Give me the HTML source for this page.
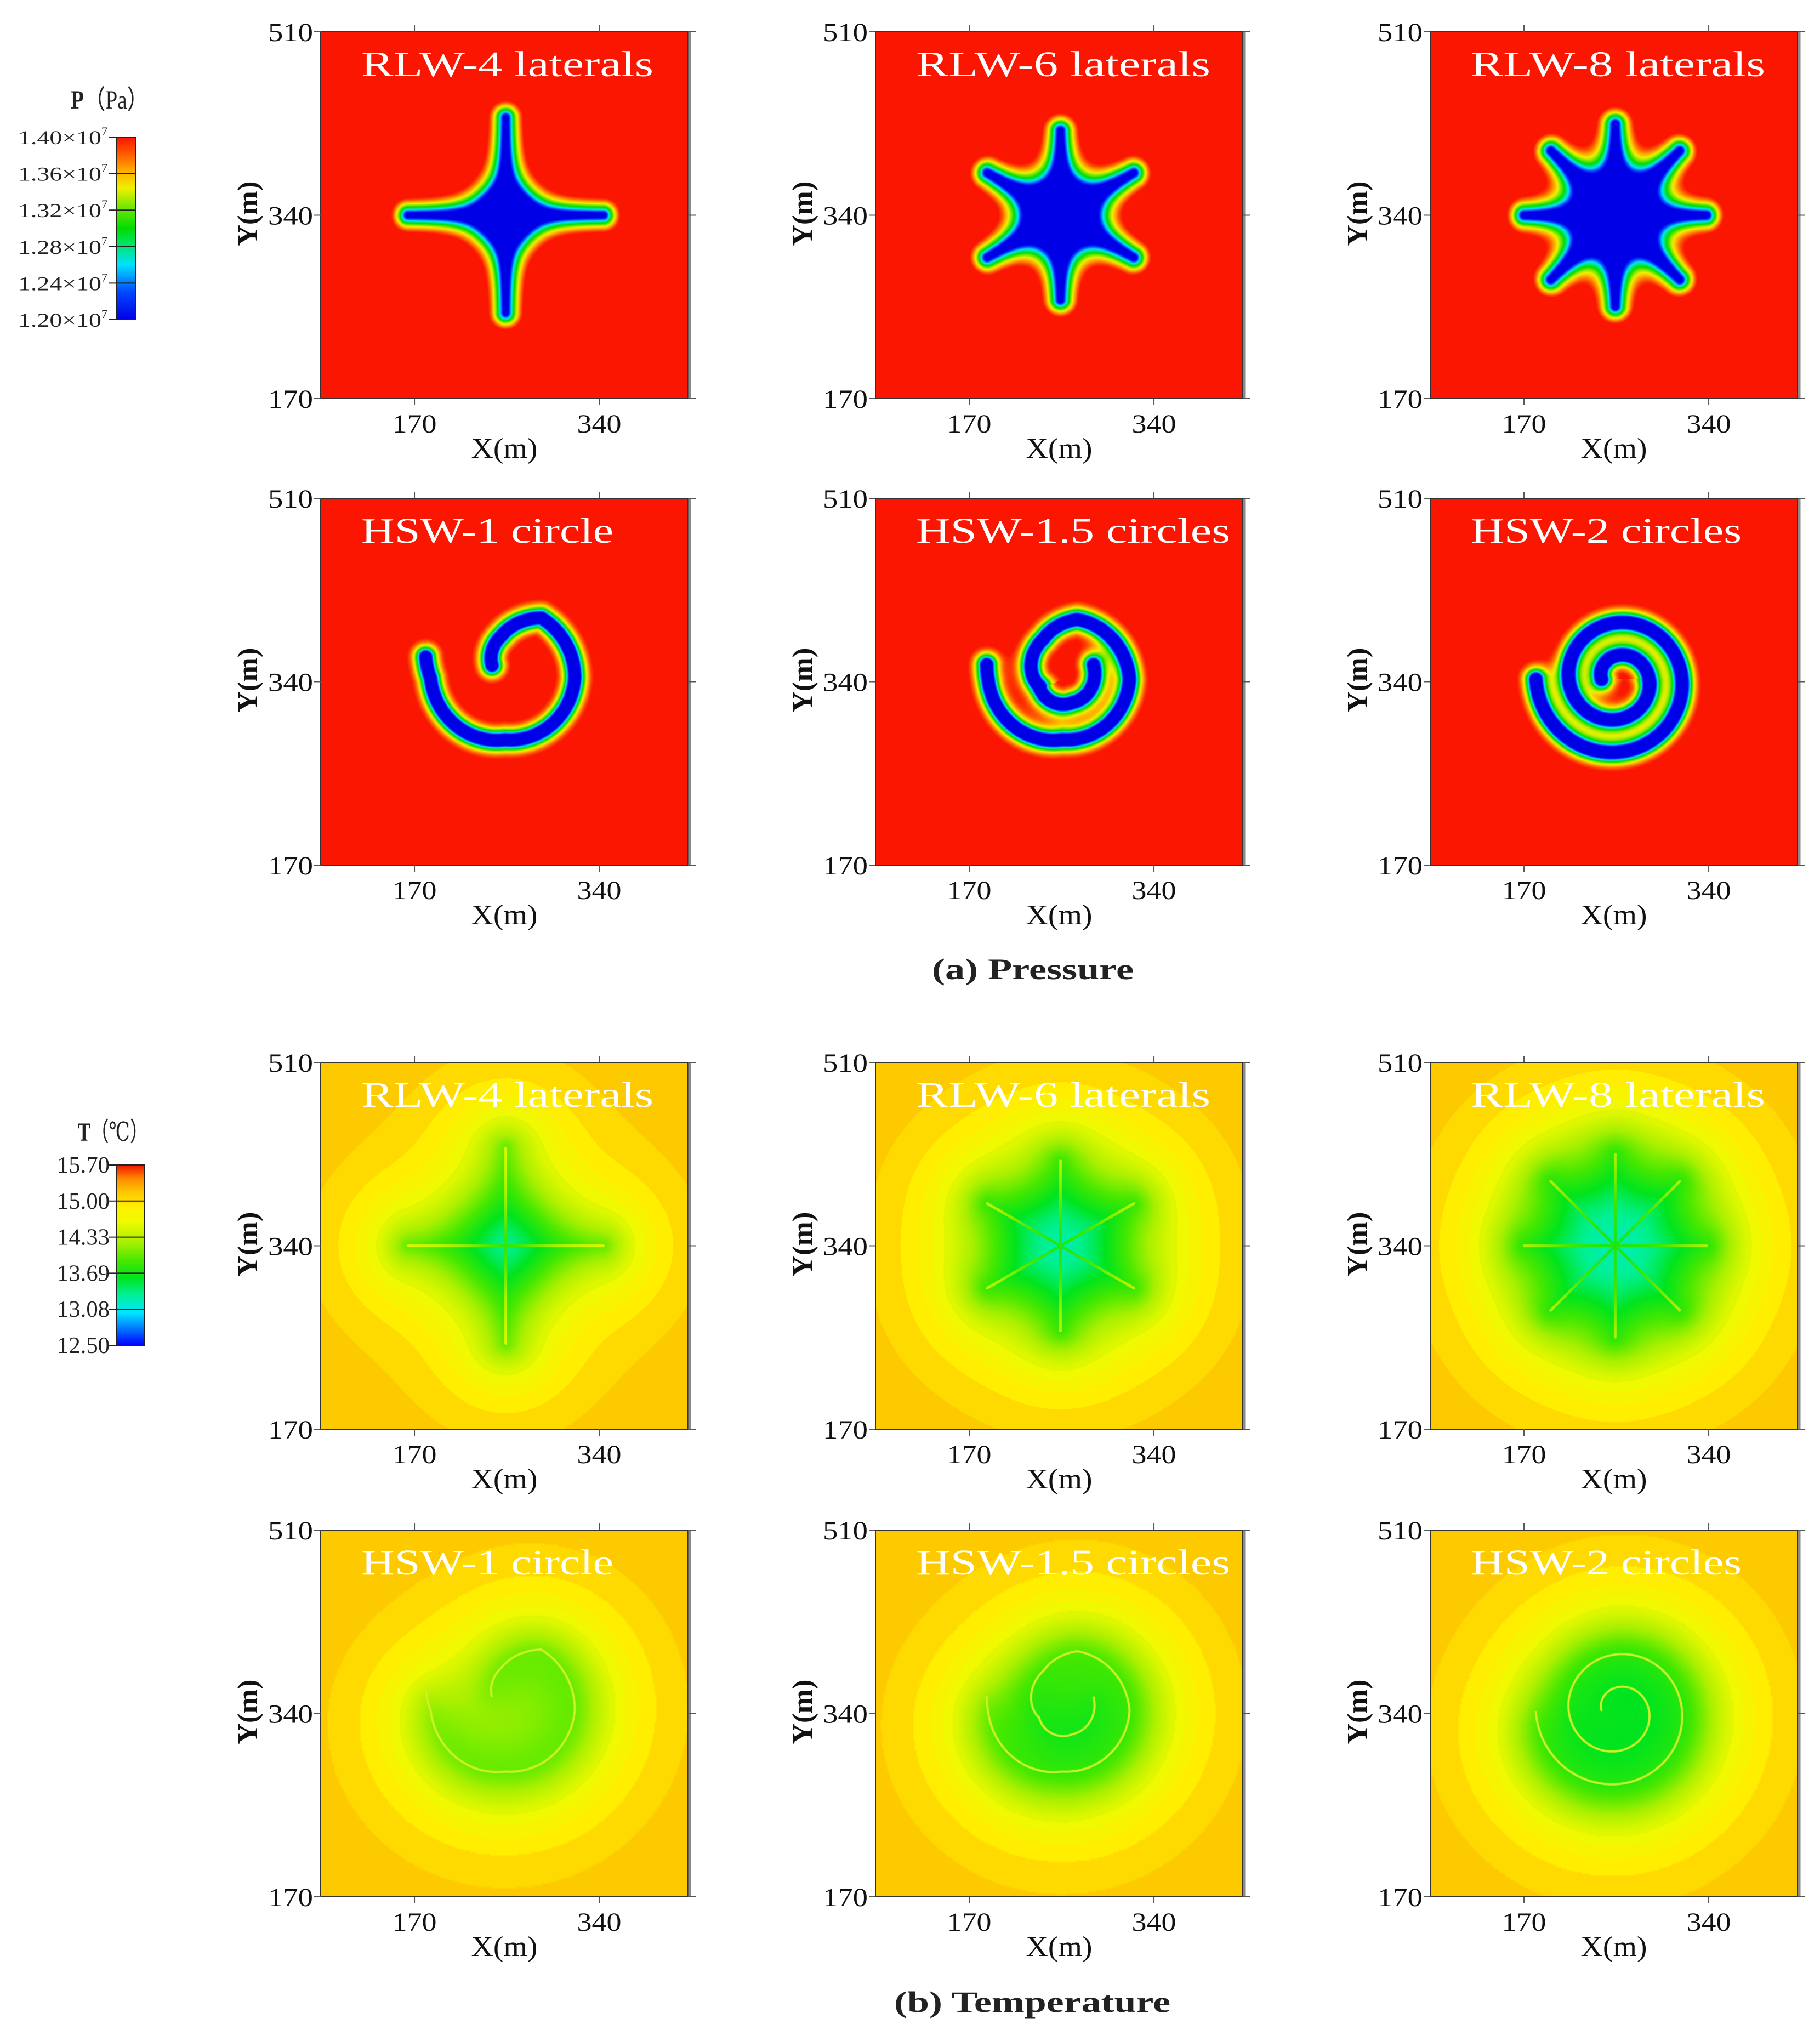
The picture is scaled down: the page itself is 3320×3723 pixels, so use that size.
<!DOCTYPE html>
<html><head><meta charset="utf-8"><title>Pressure and temperature fields</title>
<style>
html,body{margin:0;padding:0;background:#fff;}
#root{position:relative;width:3320px;height:3723px;overflow:hidden;background:#fff;}
canvas{position:absolute;display:block;}
#overlay{position:absolute;left:0;top:0;}
text{font-family:"Liberation Serif","DejaVu Serif",serif;}
</style></head>
<body>
<div id="root">
<svg id="overlay" width="3320" height="3723" xmlns="http://www.w3.org/2000/svg"></svg>
</div>
<script>
// ---------- data ----------
const rlwTitles = ["RLW-4 laterals","RLW-6 laterals","RLW-8 laterals"];
const hswTitles = ["HSW-1 circle","HSW-1.5 circles","HSW-2 circles"];
const rlwLaterals = [4,6,8];
const rlwLengthM = [90,78,84];
const rlwCenterX = [254,254,254];
const rlwCenterY = [340,340,340];
const hswCenterX = [253.2,255.7,255.7];
const hswCenterY = [343.3,342.3,342.3];
const hswAngles1 = [-135,-94,-59,0,90,180,195];
const hswRadii1 = [16.7,39.5,64.8,64.3,56.7,68.4,75.4];
const hswAngles15 = [-25,66,164,245,284,360,450,540,551];
const hswRadii15 = [31.4,23.3,22.3,41,56.7,61.8,55.7,68.4,70.9];
const hswAngles2 = [-180,540];
const hswRadii2 = [14.2,74.9];
const xTicks = [170,340];
const yTicks = [510,340,170];
const pBarLabels = ["1.40","1.36","1.32","1.28","1.24","1.20"];
const tBarLabels = ["15.70","15.00","14.33","13.69","13.08","12.50"];
const titleWidthsRLW = [533,537,537];
const titleWidthsHSW = [460,573,494];

// ---------- layout ----------
const colX = [585,1597,2609];
const rowY = [58,909,1938,2791];
const W = 670, H = 669;
const xDom = [83.7,421.7], yDom = [170,510];
function xS(m){return (m-xDom[0])/(xDom[1]-xDom[0])*W;}
function yS(m){return (yDom[1]-m)/(yDom[1]-yDom[0])*H;}
const pxPerM = W/(xDom[1]-xDom[0]);

const root = document.getElementById('root');
const svg = document.getElementById('overlay');
const NS = 'http://www.w3.org/2000/svg';
function mk(tag, attrs, parent){
  const e = document.createElementNS(NS, tag);
  for (const k in attrs) e.setAttribute(k, attrs[k]);
  (parent||svg).appendChild(e);
  return e;
}

// ---------- colormaps ----------
const pStops = [[0,[0,0,230]],[0.15,[0,70,255]],[0.3,[0,225,255]],[0.4,[0,230,120]],[0.5,[0,220,0]],[0.62,[120,232,0]],[0.72,[240,240,0]],[0.82,[255,170,0]],[0.92,[255,80,0]],[1,[250,22,0]]];
const tStops = [[12.5,[0,0,255]],[12.8,[0,120,255]],[13.08,[0,230,255]],[13.4,[0,240,150]],[13.69,[0,228,30]],[14.0,[70,232,0]],[14.33,[170,240,0]],[14.7,[240,250,0]],[14.95,[255,240,0]],[15.1,[255,215,0]],[15.22,[253,199,0]],[15.45,[255,140,0]],[15.7,[240,20,0]]];
function cmap(stops, v){
  if (v<=stops[0][0]) return stops[0][1];
  for (let i=1;i<stops.length;i++){
    if (v<=stops[i][0]){
      const a=stops[i-1], b=stops[i], f=(v-a[0])/(b[0]-a[0]);
      return [a[1][0]+(b[1][0]-a[1][0])*f, a[1][1]+(b[1][1]-a[1][1])*f, a[1][2]+(b[1][2]-a[1][2])*f];
    }
  }
  return stops[stops.length-1][1];
}
function tempFromPhi(phi){
  let T = 15.22 - 1.9*(1-Math.exp(-0.8*phi));
  if (T>14.6) T = 14.6 + Math.round((T-14.6)/0.12)*0.12;
  return T;
}

// ---------- geometry ----------
function interpR(angs, rads, a){
  if (a<=angs[0]) return rads[0];
  for (let i=1;i<angs.length;i++){
    if (a<=angs[i]){ const f=(a-angs[i-1])/(angs[i]-angs[i-1]); return rads[i-1]+(rads[i]-rads[i-1])*f; }
  }
  return rads[rads.length-1];
}
function armDistancesRLW(i, x, y, out){
  const n = rlwLaterals[i], L = rlwLengthM[i]*pxPerM;
  const cx = xS(rlwCenterX[i]), cy = yS(rlwCenterY[i]);
  const dx = x-cx, dy = y-cy;
  let c = 0;
  for (let k=0;k<n;k++){
    const a = (-90 + k*360/n)*Math.PI/180;
    const ux = Math.cos(a), uy = Math.sin(a);
    let t = dx*ux+dy*uy; if (t<0) t=0; if (t>L) t=L;
    const ex = dx-t*ux, ey = dy-t*uy;
    out[c++] = Math.sqrt(ex*ex+ey*ey);
  }
  return c;
}
const hswAngleSets = [hswAngles1,hswAngles15,hswAngles2];
const hswRadiusSets = [hswRadii1,hswRadii15,hswRadii2];
const spiralTables = [0,1,2].map(i=>{
  const angs = hswAngleSets[i], rads = hswRadiusSets[i];
  const a0 = angs[0], a1 = angs[angs.length-1];
  const cx = xS(hswCenterX[i]), cy = yS(hswCenterY[i]);
  const px = [], py = [];
  for (let a=a0; a<=a1; a++){
    const r = interpR(angs, rads, a)*pxPerM, pr = a*Math.PI/180;
    px.push(cx + r*Math.cos(pr)); py.push(cy + r*Math.sin(pr));
  }
  return {a0, a1, cx, cy, px, py};
});
function armDistancesHSW(i, x, y, out){
  const S = spiralTables[i];
  const n = S.px.length;
  const th = Math.atan2(y-S.cy, x-S.cx)*180/Math.PI;
  let c = 0;
  for (let k=-3;k<=3;k++){
    const ph = th+360*k;
    if (ph < S.a0-180 || ph >= S.a1+180) continue;
    const idx = Math.round(Math.min(S.a1, Math.max(S.a0, ph)) - S.a0);
    let best = 1e18, bj = idx;
    const lo = Math.max(0, idx-130), hi = Math.min(n-1, idx+130);
    for (let j=lo;j<=hi;j+=3){
      const ex = x-S.px[j], ey = y-S.py[j], dd = ex*ex+ey*ey;
      if (dd<best){best=dd;bj=j;}
    }
    for (let j=Math.max(0,bj-3); j<=Math.min(n-1,bj+3); j++){
      const ex = x-S.px[j], ey = y-S.py[j], dd = ex*ex+ey*ey;
      if (dd<best){best=dd;}
    }
    out[c++] = Math.sqrt(best);
  }
  return c;
}

function makeCanvas(name, left, top){
  const cv = document.createElement('canvas');
  cv.width = W; cv.height = H;
  cv.style.left = left+'px'; cv.style.top = top+'px';
  
  
  root.insertBefore(cv, svg);
  return cv;
}

// ---------- spiral temperature (smooth line-source superposition) ----------
function renderSpiralTemp(i, cv){
  const S = spiralTables[i];
  const sT = 60, step = 3;
  const Wc = Math.ceil(W/step)+1, Hc = Math.ceil(H/step)+1;
  const off = document.createElement('canvas');
  off.width = Wc; off.height = Hc;
  const octx = off.getContext('2d');
  const img = octx.createImageData(Wc,Hc);
  const d = img.data;
  const sx = [], sy = [], sw = [];
  for (let j=0;j<S.px.length;j+=2){
    const j2 = Math.min(S.px.length-1, j+2);
    const ds = Math.hypot(S.px[j2]-S.px[j], S.py[j2]-S.py[j]) || 1;
    sx.push(S.px[j]); sy.push(S.py[j]); sw.push(ds/(2*sT));
  }
  for (let yy=0; yy<Hc; yy++){
    for (let xx=0; xx<Wc; xx++){
      const x = xx*step, y = yy*step;
      let phi = 0;
      for (let j=0;j<sx.length;j++){
        const dd = Math.hypot(x-sx[j], y-sy[j]);
        phi += sw[j]*Math.exp(-dd/sT);
      }
      const col = cmap(tStops, tempFromPhi(phi));
      const p = (yy*Wc+xx)*4;
      d[p]=col[0]; d[p+1]=col[1]; d[p+2]=col[2]; d[p+3]=255;
    }
  }
  octx.putImageData(img,0,0);
  const ctx = cv.getContext('2d');
  ctx.imageSmoothingEnabled = true;
  ctx.drawImage(off, 0, 0, Wc*step, Hc*step);
  ctx.strokeStyle = 'rgb(205,240,40)';
  ctx.lineWidth = 4;
  ctx.lineJoin = 'round';
  ctx.beginPath();
  for (let j=0;j<S.px.length;j++){ if (j===0) ctx.moveTo(S.px[j],S.py[j]); else ctx.lineTo(S.px[j],S.py[j]); }
  ctx.stroke();
}

// ---------- render fields ----------
function renderPanel(kind, type, i, left, top){
  const cv = makeCanvas((kind==='P'?'pressure-':'temperature-') + (type==='RLW'?'rlw-':'hsw-') + (i+1) + '-heatmap', left, top);
  const isR = type==='RLW';
  if (kind==='T' && !isR){ renderSpiralTemp(i, cv); return; }
  const ctx = cv.getContext('2d');
  const img = ctx.createImageData(W,H);
  const d = img.data;
  const buf = new Float64Array(16);
  const s = isR ? 25 : 12;
  const db = isR ? 4 : 10, dr = isR ? 30 : 35;
  const hi = Math.exp(-db/s), lo = Math.exp(-dr/s);
  const sT = 60;
  const ccx = isR ? xS(rlwCenterX[i]) : 0, ccy = isR ? yS(rlwCenterY[i]) : 0;
  for (let y=0;y<H;y++){
    for (let x=0;x<W;x++){
      const n = isR ? armDistancesRLW(i,x+0.5,y+0.5,buf) : armDistancesHSW(i,x+0.5,y+0.5,buf);
      let col;
      if (kind==='P'){
        let phi=0; for (let k=0;k<n;k++) phi += Math.exp(-buf[k]/s);
        if (isR){ const rc = Math.hypot(x+0.5-ccx, y+0.5-ccy); phi += 0.3*Math.exp(-rc/60); }
        let t = (hi-phi)/(hi-lo); if (t<0)t=0; if (t>1)t=1;
        col = cmap(pStops, t);
      } else {
        let phi=0, dmin=1e9; for (let k=0;k<n;k++){ phi += Math.exp(-buf[k]/sT); if (buf[k]<dmin) dmin=buf[k]; }
        let T = tempFromPhi(phi);
        if (dmin<2.5) T += 0.5;
        col = cmap(tStops, T);
      }
      const p = (y*W+x)*4;
      d[p]=col[0]; d[p+1]=col[1]; d[p+2]=col[2]; d[p+3]=255;
    }
  }
  ctx.putImageData(img,0,0);
}

// ---------- axes / labels ----------
function drawAxes(left, top, title, tw, nameBase){
  const g = mk('g', {});
  
  
  const fr = mk('rect', {x:left, y:top, width:W, height:H, fill:'none', stroke:'#333', 'stroke-width':2}, g);
  
  
  mk('line', {x1:left+W+3, y1:top, x2:left+W+3, y2:top+H, stroke:'#8a8a8a', 'stroke-width':5}, g);
  const tt = mk('text', {x:left+74, y:top+81, fill:'#fff', 'font-size':66, textLength:tw, lengthAdjust:'spacingAndGlyphs'}, g);
  tt.textContent = title;
  
  
  for (const v of xTicks){
    const x = left + xS(v);
    mk('line', {x1:x, y1:top, x2:x, y2:top-12, stroke:'#555', 'stroke-width':2}, g);
    mk('line', {x1:x, y1:top+H, x2:x, y2:top+H+12, stroke:'#555', 'stroke-width':2}, g);
    const lb = mk('text', {x:x, y:top+H+62, 'text-anchor':'middle', 'font-size':48, fill:'#111', textLength:81, lengthAdjust:'spacingAndGlyphs'}, g);
    lb.textContent = String(v);
    
    
  }
  for (const v of yTicks){
    const y = top + yS(v);
    mk('line', {x1:left, y1:y, x2:left-12, y2:y, stroke:'#555', 'stroke-width':2}, g);
    mk('line', {x1:left+W, y1:y, x2:left+W+14, y2:y, stroke:'#555', 'stroke-width':2}, g);
    const lb = mk('text', {x:left-14, y:y+17, 'text-anchor':'end', 'font-size':48, fill:'#111', textLength:82, lengthAdjust:'spacingAndGlyphs'}, g);
    lb.textContent = String(v);
    
    
  }
  const xl = mk('text', {x:left+W/2, y:top+H+108, 'text-anchor':'middle', 'font-size':52, fill:'#111', textLength:121, lengthAdjust:'spacingAndGlyphs'}, g);
  xl.textContent = 'X(m)';
  
  
  const cx = left-133, cy = top+H/2-3;
  const yl = mk('text', {x:cx, y:cy+17, 'text-anchor':'middle', 'font-size':52, 'font-weight':'bold', fill:'#111', textLength:118, lengthAdjust:'spacingAndGlyphs', transform:'rotate(-90 '+cx+' '+cy+')'}, g);
  yl.textContent = 'Y(m)';
  
  
}

// build all panels
const kinds = ['P','P','T','T'];
const types = ['RLW','HSW','RLW','HSW'];
for (let r=0;r<4;r++){
  for (let c=0;c<3;c++){
    renderPanel(kinds[r], types[r], c, colX[c], rowY[r]);
    const title = types[r]==='RLW' ? rlwTitles[c] : hswTitles[c];
    const tw = types[r]==='RLW' ? titleWidthsRLW[c] : titleWidthsHSW[c];
    drawAxes(colX[c], rowY[r], title, tw, (kinds[r]==='P'?'pressure-':'temperature-') + title.toLowerCase().replace(/[^a-z0-9]+/g,'-'));
  }
}

// ---------- colorbars ----------
function colorbar(id, x, y, w, h, stops, vmin, vmax, labels, isP, titleMain, titleUnit, titleX, titleY, titleW){
  const g = mk('g', {});
  
  
  const defs = mk('defs', {}, g);
  const lg = mk('linearGradient', {id:id+'-grad', x1:0, y1:1, x2:0, y2:0}, defs);
  for (const s of stops){
    const off = (s[0]-vmin)/(vmax-vmin);
    if (off<0||off>1) continue;
    mk('stop', {offset:off, 'stop-color':'rgb('+s[1].map(Math.round).join(',')+')'}, lg);
  }
  mk('rect', {x:x, y:y, width:w, height:h, fill:'url(#'+id+'-grad)', stroke:'#222', 'stroke-width':2}, g);
  const n = labels.length;
  for (let k=0;k<n;k++){
    const ty = y + k*h/(n-1);
    mk('line', {x1:x-14, y1:ty, x2:x+w, y2:ty, stroke:'#222', 'stroke-width':2}, g);
    let lb;
    if (isP){
      lb = mk('text', {x:33, y:ty+13, 'font-size':36, fill:'#222'}, g);
      const t1 = mk('tspan', {textLength:152, lengthAdjust:'spacingAndGlyphs'}, lb);
      t1.textContent = labels[k] + '×10';
      const t2 = mk('tspan', {'font-size':22, dy:-16}, lb);
      t2.textContent = '7';
    } else {
      lb = mk('text', {x:104, y:ty+14, 'font-size':42, fill:'#222', textLength:96, lengthAdjust:'spacingAndGlyphs'}, g);
      lb.textContent = labels[k];
    }
    
    
  }
  const tt = mk('text', {x:titleX, y:titleY, 'font-size':48, fill:'#222', textLength:titleW, lengthAdjust:'spacingAndGlyphs'}, g);
  const s1 = mk('tspan', {'font-weight':'bold'}, tt); s1.textContent = titleMain;
  const s2 = mk('tspan', {}, tt); s2.textContent = titleUnit;
  
  
}
colorbar('pressure-colorbar', 212, 250, 35, 333, pStops.map(s=>[1.20+s[0]*0.20, s[1]]), 1.20, 1.40, pBarLabels, true, 'P', '（Pa）', 129, 198, 142);
colorbar('temperature-colorbar', 212, 2125, 52, 329, tStops, 12.5, 15.7, tBarLabels, false, 'T', '（℃）', 142, 2081, 129);

// ---------- captions ----------
const capA = mk('text', {x:1884, y:1786, 'text-anchor':'middle', 'font-size':54, 'font-weight':'bold', fill:'#222', textLength:368, lengthAdjust:'spacingAndGlyphs'});
capA.textContent = '(a) Pressure';


const capB = mk('text', {x:1883, y:3670, 'text-anchor':'middle', 'font-size':54, 'font-weight':'bold', fill:'#222', textLength:504, lengthAdjust:'spacingAndGlyphs'});
capB.textContent = '(b) Temperature';


</script>
</body></html>
